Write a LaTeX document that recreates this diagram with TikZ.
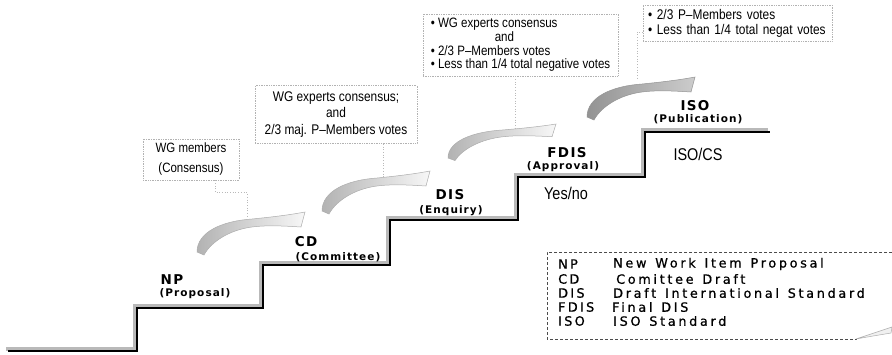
\documentclass[tikz,border=0pt]{standalone}
\usepackage{fontspec}
\setmainfont{Liberation Sans}
\newfontfamily\narrowfont[FakeStretch=0.85]{Liberation Sans}
\newfontfamily\stepfont[LetterSpace=10]{DejaVu Sans}
\newfontfamily\legabfont[LetterSpace=18,FakeBold=0.8]{DejaVu Sans}
\newfontfamily\legfont[LetterSpace=21,WordSpace=1.3,FakeBold=0.8]{DejaVu Sans}
\begin{document}
\begin{tikzpicture}[x=1pt,y=-1pt,
  stair/.style={line width=2.8pt, line join=miter, black},
  stairshade/.style={line width=3.6pt, line join=miter, gray!55},
  box/.style={draw=gray!60, densely dotted, line width=0.7pt, inner sep=0pt},
  conn/.style={gray!55, dotted, line width=0.7pt},
  head/.style={font=\stepfont\bfseries\fontsize{13.5}{15}\selectfont, inner sep=0pt},
  sub/.style={font=\stepfont\bfseries\fontsize{10.5}{12}\selectfont, inner sep=0pt},
  plain/.style={font=\narrowfont\fontsize{17}{19}\selectfont, inner sep=0pt},
  legab/.style={font=\legabfont\fontsize{12.8}{14}\selectfont, inner sep=0pt, anchor=west},
  legtx/.style={font=\legfont\fontsize{12.8}{14}\selectfont, inner sep=0pt, anchor=west},
  legline/.style={draw=black!70, densely dashed, line width=0.6pt},
  swooshlight/.style={left color=gray!60, right color=gray!6, draw=gray!65, line width=0.5pt},
  swooshdark/.style={left color=gray!85, right color=gray!40, draw=gray!85, line width=0.5pt},
  swoosh/.pic={
    \path[pic actions] (0,0) .. controls (0,-20) and (25,-31) .. (55,-33)
      .. controls (75,-35) and (92,-37) .. (108,-40) -- (104,-25)
      .. controls (88,-26) and (70,-27) .. (55,-25)
      .. controls (32,-22) and (14,-10) .. (7,3) -- cycle;
  }
]
\useasboundingbox (0,0) rectangle (892,354);

% staircase
\coordinate (s0) at (8,351);
\coordinate (s1) at (137,351);
\coordinate (s2) at (137,308);
\coordinate (s3) at (263,308);
\coordinate (s4) at (263,265);
\coordinate (s5) at (390,265);
\coordinate (s6) at (390,220);
\coordinate (s7) at (518,220);
\coordinate (s8) at (518,177);
\coordinate (s9) at (645,177);
\coordinate (s10) at (645,132);
\coordinate (s11) at (770,132);
\draw[stairshade, transform canvas={xshift=-1.8pt, yshift=1.8pt}]
  (s0) -- (s1) -- (s2) -- (s3) -- (s4) -- (s5) -- (s6) -- (s7) -- (s8) -- (s9) -- (s10) -- (s11);
\draw[stair]
  (s0) -- (s1) -- (s2) -- (s3) -- (s4) -- (s5) -- (s6) -- (s7) -- (s8) -- (s9) -- (s10) -- (s11);

% swooshes
\pic[swooshlight] at (197,252) {swoosh};
\pic[swooshlight] at (322,211) {swoosh};
\pic[swooshlight, yscale=0.85] at (448,158) {swoosh};
\pic[swooshdark] at (587,117) {swoosh};
\coordinate (a1c) at (247,217);
\coordinate (a2c) at (383,178);
\coordinate (a3c) at (515,129);
\coordinate (a4c) at (637,80);

% step labels
\node[head] (np) at (172,280) {NP};
\node[sub] (npl) at (195,294) {(Proposal)};
\node[head] (cd) at (306,242) {CD};
\node[sub] (cdl) at (338,257) {(Committee)};
\node[head] (dis) at (450,195) {DIS};
\node[sub] (disl) at (451,211) {(Enquiry)};
\node[head] (fdis) at (567,153) {FDIS};
\node[sub] (fdisl) at (563,167) {(Approval)};
\node[head] (iso) at (695,106) {ISO};
\node[sub] (isol) at (698,119) {(Publication)};
\node[plain] (yes) at (566,193) {Yes/no};
\node[plain] (isocs) at (698,154) {ISO/CS};

% criteria boxes
\node[box, minimum width=96, minimum height=41, align=center,
  font=\narrowfont\fontsize{13.5}{20}\selectfont] (b1) at (191,159.5) {WG members\\(Consensus)};
\node[box, minimum width=162, minimum height=58, align=center,
  font=\narrowfont\fontsize{14}{16.5}\selectfont] (b2) at (336,114.5)
  {WG experts consensus;\\and\\2/3 maj. P–Members votes};
\node[box, minimum width=195, minimum height=62, align=left,
  font=\narrowfont\fontsize{13.6}{13.6}\selectfont] (b3) at (520.5,45)
  {\textbullet\ WG experts consensus\\\hspace*{64pt}and\\\textbullet\ 2/3 P–Members votes\\\textbullet\ Less than 1/4 total negative votes};
\node[box, inner xsep=5pt, text width=179pt, minimum height=36, align=left,
  font=\narrowfont\fontsize{14}{15}\selectfont] (b4) at (737.5,23)
  {\textbullet\ 2/3 P–Members votes\\\textbullet\ Less than 1/4 total negat votes};

% connectors
\draw[conn] ([xshift=24pt]b1.south) -- ++(0,12) -| (a1c);
\draw[conn] (b2.south -| a2c) -- (a2c);
\draw[conn] (b3.south -| a3c) -- (a3c);
\draw[conn] ([yshift=-9pt]b4.west) -| (a4c);

% legend
\draw[legline] (892,252) -- (547,252) -- (547,339) -- (857,339);
\draw[gray!65, fill=gray!12, line width=0.5pt] (856,339) -- (892,327) -- (891,333) -- (873,336) -- cycle;
\node[legab] (lnp) at (558,264) {NP};
\node[legab] (lcd) at (558,279) {CD};
\node[legab] (ldis) at (558,293) {DIS};
\node[legab] (lfdis) at (558,307) {FDIS};
\node[legab] (liso) at (558,321) {ISO};
\node[legtx] (tnp) at (613,264) {New Work Item Proposal};
\node[legtx] (tcd) at (616,279) {Comittee Draft};
\node[legtx] (tdis) at (613,293) {Draft International Standard};
\node[legtx] (tfdis) at (612,307) {Final DIS};
\node[legtx] (tiso) at (613,321) {ISO Standard};
\end{tikzpicture}
\end{document}
